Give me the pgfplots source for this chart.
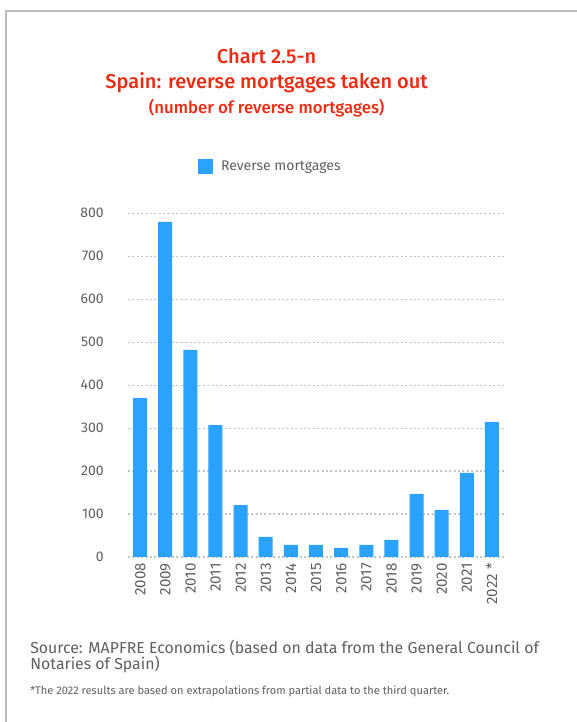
\documentclass[border=0pt]{standalone}
\usepackage{fontspec}
\setmainfont{Fira Sans}
\newfontfamily\titlefont{Fira Sans Medium}
\usepackage{pgfplots}
\pgfplotsset{compat=1.18}

\definecolor{barblue}{HTML}{29A3FF}
\definecolor{titlered}{HTML}{EE2B12}
\definecolor{txtgrey}{HTML}{5F5F5F}
\definecolor{gridgrey}{HTML}{C4C4C4}
\definecolor{framegrey}{HTML}{BDBDBD}

\begin{document}
\begin{tikzpicture}
% page = 577 x 722 px, 1px = 0.75pt
\path[use as bounding box] (0,0) rectangle (432.75pt,541.5pt);
\draw[framegrey, line width=1.2pt] (4.5pt,0) -- (4.5pt,533.25pt) -- (432.75pt,533.25pt);

\node[titlered, font=\titlefont\fontsize{15}{18}\selectfont] at (200pt,499.5pt) {Chart 2.5-n};
\node[titlered, font=\titlefont\fontsize{15}{18}\selectfont] at (200pt,479.25pt) {Spain: reverse mortgages taken out};
\node[titlered, font=\titlefont\fontsize{12.6}{16}\selectfont] at (200pt,460.5pt) {(number of reverse mortgages)};

\begin{axis}[
    at={(96pt,123.75pt)}, anchor=south west,
    scale only axis,
    width=282.75pt, height=257.8pt,
    xmin=-0.48, xmax=14.52,
    ymin=0, ymax=800,
    ytick={0,100,...,800},
    xtick=data,
    xticklabels={2008,2009,2010,2011,2012,2013,2014,2015,2016,2017,2018,2019,2020,2021,2022 *},
    /pgf/number format/assume math mode=true,
    axis line style={draw=none},
    major tick length=0pt,
    ymajorgrids,
    grid style={gridgrey, line width=0.9pt, dash pattern=on 1.5pt off 1.8pt},
    ticklabel style={font=\fontsize{10.5}{12}\selectfont, text=txtgrey},
    yticklabel style={anchor=east, inner sep=0pt, xshift=-18pt},
    xticklabel style={font=\fontsize{11.3}{13}\selectfont, rotate=90, anchor=east,
        inner sep=0pt, text height=7.8pt, text depth=0pt},
    xticklabel shift=4.5pt,
    legend style={at={(0.186,1.136)}, anchor=west, draw=none, fill=none,
        inner sep=0pt, font=\fontsize{10.5}{12}\selectfont, text=txtgrey,
        /tikz/every even column/.append style={column sep=0pt}},
    legend cell align=left,
    legend image code/.code={\fill[barblue] (0pt,-5.8pt) rectangle (11.25pt,5.8pt);
        \path (11.25pt,0) -- (15pt,0);},
    clip=false,
]
\addplot[ybar, bar width=10.5pt, fill=barblue, draw=none] coordinates {
    (0,370) (1,780) (2,482) (3,307) (4,121) (5,47) (6,28) (7,28)
    (8,21) (9,28) (10,40) (11,147) (12,109) (13,196) (14,314)
};
\legend{Reverse mortgages}
\end{axis}

\node[txtgrey, anchor=west, font=\fontsize{11.9}{14}\selectfont, inner sep=0pt] at (22.5pt,55.5pt) {Source: MAPFRE Economics (based on data from the General Council of};
\node[txtgrey, anchor=west, font=\fontsize{11.9}{14}\selectfont, inner sep=0pt] at (22.5pt,43.5pt) {Notaries of Spain)};
\node[txtgrey, anchor=west, font=\fontsize{8.3}{10}\selectfont, inner sep=0pt] at (22.5pt,23.25pt) {*The 2022 results are based on extrapolations from partial data to the third quarter.};
\end{tikzpicture}
\end{document}
